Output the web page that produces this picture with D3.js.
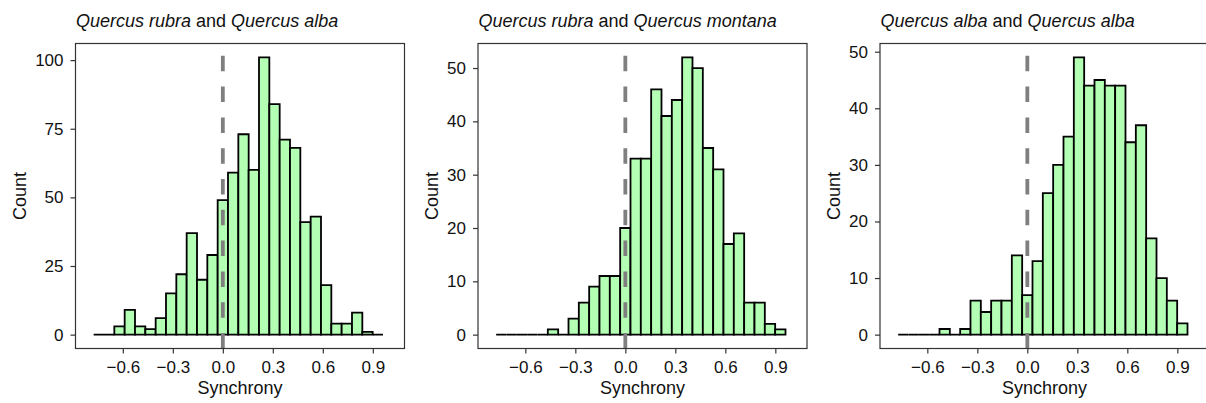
<!DOCTYPE html>
<html>
<head>
<meta charset="utf-8">
<script src="https://cdn.jsdelivr.net/npm/d3@7"></script>
<style>
  body { margin: 0; background: #fff; }
  svg { display: block; }
  text { font-family: "Liberation Sans", Arial, sans-serif; fill: #111; }
</style>
</head>
<body>
<svg id="chart"></svg>
<script>
// bin centres of the histogram (same bins in all three panels)
var binCenters = [-0.744, -0.682, -0.620, -0.558, -0.496, -0.434, -0.372, -0.310,
                  -0.248, -0.186, -0.124, -0.062, 0.000, 0.062, 0.124, 0.186,
                   0.248, 0.310, 0.372, 0.434, 0.496, 0.558, 0.620, 0.682,
                   0.744, 0.806, 0.868, 0.930];
var binWidth = 0.062;

var countsRubraAlba    = [0, 0, 3, 9, 3, 2, 6, 15, 22, 37, 20, 29, 49, 59, 73, 60,
                          101, 84, 71, 68, 41, 43, 18, 4, 4, 8, 1, 0];
var countsRubraMontana = [0, 0, 0, 0, 0, 1, 0, 3, 6, 9, 11, 11, 20, 33, 33, 46,
                          41, 44, 52, 50, 35, 31, 17, 19, 6, 6, 2, 1];
var countsAlbaAlba     = [0, 0, 0, 0, 1, 0, 1, 6, 4, 6, 6, 14, 7, 13, 25, 30,
                          35, 49, 44, 45, 44, 44, 34, 37, 17, 10, 6, 2];

var xTicks = [-0.6, -0.3, 0, 0.3, 0.6, 0.9];
var yTicksRubraAlba    = [0, 25, 50, 75, 100];
var yTicksRubraMontana = [0, 10, 20, 30, 40, 50];
var yTicksAlbaAlba     = [0, 10, 20, 30, 40, 50];

// [text, italic]
var titleRubraAlba    = [["Quercus rubra", true], [" and ", false], ["Quercus alba", true]];
var titleRubraMontana = [["Quercus rubra", true], [" and ", false], ["Quercus montana", true]];
var titleAlbaAlba     = [["Quercus alba", true], [" and ", false], ["Quercus alba", true]];

var panels = [
  { counts: countsRubraAlba,    yTicks: yTicksRubraAlba,    title: titleRubraAlba,    left: 75.5 },
  { counts: countsRubraMontana, yTicks: yTicksRubraMontana, title: titleRubraMontana, left: 478 },
  { counts: countsAlbaAlba,     yTicks: yTicksAlbaAlba,     title: titleAlbaAlba,     left: 880 }
];

var setup = { width: 1206, height: 403, top: 43.5, boxW: 329, boxH: 305 };

var svg = d3.select("#chart")
  .attr("width", setup.width)
  .attr("height", setup.height);

var fmt = function (d) { return d3.format(".1f")(d).replace("-", "\u2212"); };

panels.forEach(function (p) {
  var g = svg.append("g")
    .attr("transform", "translate(" + [p.left, setup.top] + ")");

  var x = d3.scaleLinear()
    .domain([-0.884, 1.09])
    .range([0, setup.boxW]);

  var ymax = d3.max(p.counts);
  var y = d3.scaleLinear()
    .domain([-0.05 * ymax, 1.05 * ymax])
    .range([setup.boxH, 0]);

  // bars (paths so that empty bins still show their outline)
  g.append("g").selectAll("path")
    .data(p.counts)
    .join("path")
    .attr("d", function (d, i) {
      var x0 = x(binCenters[i] - binWidth / 2), x1 = x(binCenters[i] + binWidth / 2);
      return "M" + x0 + "," + y(0) + "H" + x1 + "V" + y(d) + "H" + x0 + "Z";
    })
    .attr("fill", "#b3ffb3")
    .attr("stroke", "#000")
    .attr("stroke-width", 1.8)
    .attr("stroke-linejoin", "miter");

  // dashed line at zero
  g.append("line")
    .attr("x1", x(0)).attr("x2", x(0))
    .attr("y1", setup.boxH).attr("y2", 0)
    .attr("stroke", "#7f7f7f")
    .attr("stroke-width", 3.8)
    .attr("stroke-dasharray", "15.5 15.3");

  // panel border
  g.append("rect")
    .attr("width", setup.boxW)
    .attr("height", setup.boxH)
    .attr("fill", "none")
    .attr("stroke", "#333")
    .attr("stroke-width", 1.2);

  var xAxis = g.append("g")
    .attr("transform", "translate(0," + setup.boxH + ")")
    .call(d3.axisBottom(x).tickValues(xTicks).tickFormat(fmt).tickSize(5).tickPadding(7));

  var yAxis = g.append("g")
    .call(d3.axisLeft(y).tickValues(p.yTicks).tickSize(5).tickPadding(7));

  [xAxis, yAxis].forEach(function (a) {
    a.select(".domain").remove();
    a.selectAll(".tick line").attr("stroke", "#333").attr("stroke-width", 1.2);
    a.selectAll(".tick text")
      .attr("fill", "#111")
      .style("font-size", "17px")
      .style("font-family", "Liberation Sans, Arial, sans-serif");
  });

  // axis titles
  g.append("text")
    .attr("x", setup.boxW / 2)
    .attr("y", 394 - setup.top)
    .attr("text-anchor", "middle")
    .style("font-size", "18px")
    .text("Synchrony");

  var labLeft = yAxis.node().getBBox().x;
  g.append("text")
    .attr("transform", "translate(" + (labLeft - 9) + "," + (setup.boxH / 2) + ") rotate(-90)")
    .attr("text-anchor", "middle")
    .style("font-size", "18px")
    .text("Count");

  // title
  var t = g.append("text")
    .attr("x", 0.5)
    .attr("y", 27 - setup.top)
    .style("font-size", "18px");
  t.selectAll("tspan")
    .data(p.title)
    .join("tspan")
    .style("font-style", function (d) { return d[1] ? "italic" : "normal"; })
    .text(function (d) { return d[0]; });
});
</script>
</body>
</html>
